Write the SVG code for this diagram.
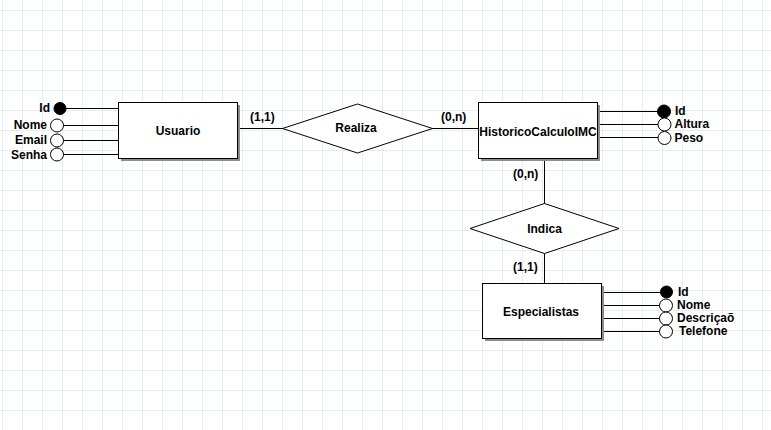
<svg xmlns="http://www.w3.org/2000/svg" width="771" height="430" viewBox="0 0 771 430">
<defs>
<pattern id="grid" width="20" height="20" patternUnits="userSpaceOnUse" x="22" y="10"><path d="M0.5 0 V20 M0 0.5 H20" stroke="#e8edf2" fill="none"/></pattern>
</defs>
<style>
text { font-family: "Liberation Sans", Arial, sans-serif; font-weight: bold; font-size: 12px; fill: #000; }
.ent { fill: #fff; stroke: #000; stroke-width: 1; }
.shadow { fill: #8c8c8c; }
.rel { fill: #fff; stroke: #000; stroke-width: 1; }
.ln { stroke: #000; stroke-width: 1; fill: none; }
.pk { fill: #000; stroke: #000; stroke-width: 1; }
.att { fill: #fff; stroke: #000; stroke-width: 1; }
.mid { text-anchor: middle; }
.end { text-anchor: end; }
</style>
<rect width="771" height="430" fill="#fff"/>
<rect width="771" height="430" fill="url(#grid)"/>

<g id="connectors">
<path class="ln" d="M64 108.5 H118 M63 125.5 H118 M63 140.5 H118 M63 154.5 H118"/>
<path class="ln" d="M238 128.5 H283"/>
<path class="ln" d="M432 128.5 H478"/>
<path class="ln" d="M598 111.5 H658 M598 124.5 H658 M598 137.5 H658"/>
<path class="ln" d="M544.5 159 V203.5"/>
<path class="ln" d="M544.5 253.5 V283"/>
<path class="ln" d="M602 292.5 H660 M602 305.5 H660 M602 318.5 H660 M602 331.5 H660"/>
<text x="250" y="121">(1,1)</text>
<text x="441" y="121">(0,n)</text>
<text x="513" y="178">(0,n)</text>
<text x="513" y="271">(1,1)</text>
</g>

<g id="usuario">
<rect class="shadow" x="121" y="105" width="119" height="56"/>
<rect class="ent" x="118.5" y="102.5" width="119" height="56"/>
<text class="mid" x="178" y="134.5">Usuario</text>
</g>
<g id="usuario-id"><circle class="pk" cx="60" cy="108.5" r="6"/><text class="end" x="50" y="112">Id</text></g>
<g id="usuario-nome"><circle class="att" cx="57" cy="125.5" r="6.5"/><text class="end" x="47" y="129">Nome</text></g>
<g id="usuario-email"><circle class="att" cx="57" cy="140.5" r="6.5"/><text class="end" x="47" y="144">Email</text></g>
<g id="usuario-senha"><circle class="att" cx="57" cy="154.5" r="6.5"/><text class="end" x="47" y="158.5">Senha</text></g>

<g id="realiza">
<polygon class="rel" points="282.5,128.5 357.5,104 432.5,128.5 357.5,153"/>
<text class="mid" x="356" y="132">Realiza</text>
</g>

<g id="historico">
<rect class="shadow" x="481" y="105" width="119" height="56"/>
<rect class="ent" x="478.5" y="102.5" width="119" height="56"/>
<text class="mid" x="538" y="135.5">HistoricoCalculoIMC</text>
</g>
<g id="historico-id"><circle class="pk" cx="664" cy="111.5" r="6.5"/><text x="675" y="115">Id</text></g>
<g id="historico-altura"><circle class="att" cx="664.5" cy="124.5" r="6.5"/><text x="674.5" y="128">Altura</text></g>
<g id="historico-peso"><circle class="att" cx="664.5" cy="138" r="6.5"/><text x="674.5" y="141.5">Peso</text></g>

<g id="indica">
<polygon class="rel" points="470,228.5 544.5,203.5 619,228.5 544.5,253.5"/>
<text class="mid" x="544.5" y="233">Indica</text>
</g>

<g id="especialistas">
<rect class="shadow" x="485" y="286" width="119" height="55"/>
<rect class="ent" x="482.5" y="283.5" width="119" height="55"/>
<text class="mid" x="541" y="315.5">Especialistas</text>
</g>
<g id="especialistas-id"><circle class="pk" cx="666.5" cy="292" r="6"/><text x="678" y="296">Id</text></g>
<g id="especialistas-nome"><circle class="att" cx="666" cy="305.5" r="6.5"/><text x="677" y="309">Nome</text></g>
<g id="especialistas-descricao"><circle class="att" cx="666" cy="318.5" r="6.5"/><text x="677" y="322">Descriçaõ</text></g>
<g id="especialistas-telefone"><circle class="att" cx="666" cy="331.5" r="6.5"/><text x="679" y="335">Telefone</text></g>
</svg>
